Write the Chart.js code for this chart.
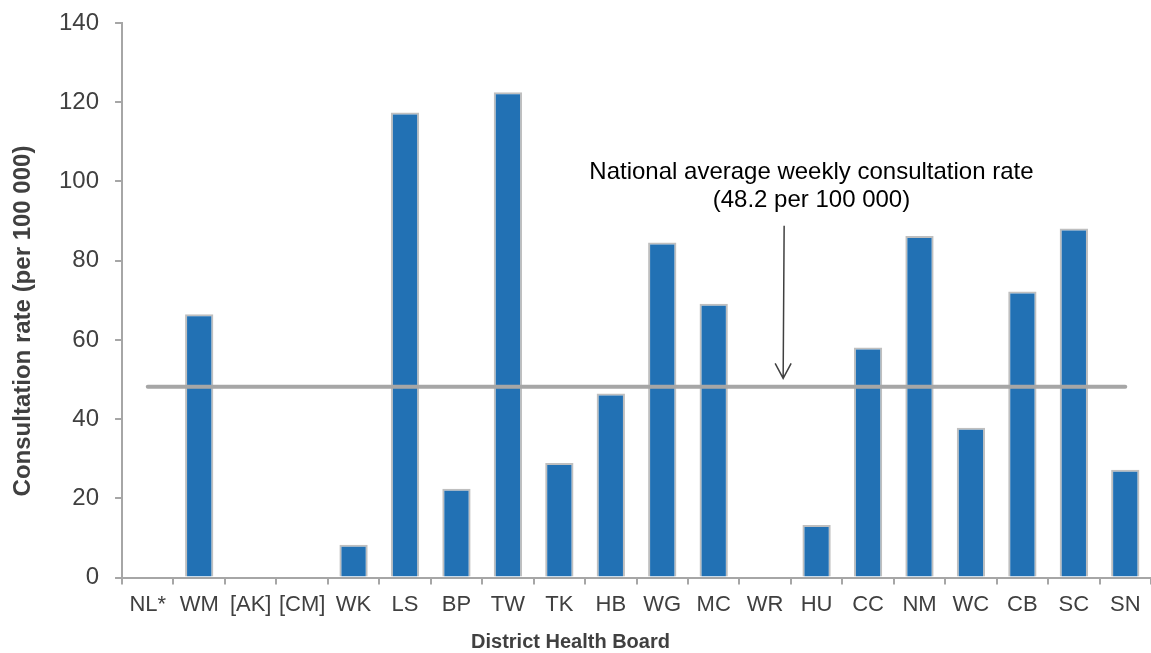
<!DOCTYPE html>
<html>
<head>
<meta charset="utf-8">
<script src="https://cdn.jsdelivr.net/npm/chart.js@4/dist/chart.umd.min.js"></script>
<style>
html,body{margin:0;padding:0;background:#fff;}
#wrap{width:1151px;height:653px;}
</style>
</head>
<body>
<div id="wrap"><canvas id="c" width="1151" height="653"></canvas></div>
<script>
const categories = ['NL*','WM','[AK]','[CM]','WK','LS','BP','TW','TK','HB','WG','MC','WR','HU','CC','NM','WC','CB','SC','SN'];
const rates = [0,66.5,0,0,8.3,117.4,22.4,122.5,28.9,46.5,84.6,69.1,0,13.3,58.1,86.2,37.8,72.2,88.1,27.2];
const nationalAverage = 48.2;
const averageLine = categories.map(() => nationalAverage);
const yTicks = [0,20,40,60,80,100,120,140];
const xTitle = 'District Health Board';
const yTitle = 'Consultation rate (per 100 000)';
const noteLines = ['National average weekly consultation rate','(48.2 per 100 000)'];
const noteX = 12.9;            // category index for text centre
const noteY = [102.4, 95.3];   // value units for each text line
const arrowX = 12.35;          // category index for arrow
const arrowFrom = 88.8;
const arrowTo = 50.3;
const FONT = '"Liberation Sans", Arial, sans-serif';

const notePlugin = {
  id: 'note',
  afterDatasetsDraw(chart) {
    const ctx = chart.ctx, x = chart.scales.x, y = chart.scales.y;
    ctx.save();
    ctx.fillStyle = '#000';
    ctx.font = '24px ' + FONT;
    ctx.textAlign = 'center';
    ctx.textBaseline = 'middle';
    noteLines.forEach((t, i) => ctx.fillText(t, x.getPixelForValue(noteX), y.getPixelForValue(noteY[i])));
    const ax = x.getPixelForValue(arrowX);
    const y1 = y.getPixelForValue(arrowFrom), y2 = y.getPixelForValue(arrowTo);
    ctx.strokeStyle = '#404040';
    ctx.lineWidth = 1.5;
    ctx.beginPath();
    ctx.moveTo(ax + 1, y1); ctx.lineTo(ax, y2);
    ctx.moveTo(ax - 8, y2 - 15); ctx.lineTo(ax, y2); ctx.lineTo(ax + 8, y2 - 15);
    ctx.stroke();
    // axis titles, placed as in the reference
    ctx.fillStyle = '#404040';
    ctx.font = 'bold 20px ' + FONT;
    ctx.fillText(xTitle, chart.width / 2 - 5, 642);
    ctx.translate(23, 321);
    ctx.rotate(-Math.PI / 2);
    ctx.font = 'bold 24px ' + FONT;
    ctx.fillText(yTitle, 0, 0);
    ctx.restore();
  }
};

new Chart(document.getElementById('c'), {
  data: {
    labels: categories,
    datasets: [
      {
        type: 'line',
        data: averageLine,
        borderColor: '#A6A6A6',
        borderWidth: 4,
        pointRadius: 0,
        borderCapStyle: 'round',
        order: 0
      },
      {
        type: 'bar',
        data: rates,
        backgroundColor: '#2271B4',
        borderColor: '#BFBFBF',
        borderWidth: 2,
        barPercentage: 0.55,
        categoryPercentage: 1,
        order: 1
      }
    ]
  },
  options: {
    responsive: false,
    animation: false,
    devicePixelRatio: 1,
    layout: { padding: { top: 23, right: 0, left: 43, bottom: 28 } },
    plugins: { legend: { display: false }, tooltip: { enabled: false } },
    scales: {
      x: {
        offset: true,
        grid: { offset: true, drawOnChartArea: false, drawTicks: true, tickLength: 7, color: '#A6A6A6', lineWidth: 2 },
        border: { color: '#A6A6A6', width: 2 },
        ticks: { color: '#404040', font: { size: 22, family: FONT }, maxRotation: 0, autoSkip: false, padding: 7 }
      },
      y: {
        min: 0, max: 140,
        afterBuildTicks: (s) => { s.ticks = yTicks.map(v => ({ value: v })); },
        afterFit: (s) => { s.paddingTop = 0; },
        grid: { drawOnChartArea: false, drawTicks: true, tickLength: 7, color: '#A6A6A6', lineWidth: 2 },
        border: { color: '#A6A6A6', width: 2 },
        ticks: { color: '#404040', font: { size: 24, family: FONT }, padding: 16 }
      }
    }
  },
  plugins: [notePlugin]
});
</script>
</body>
</html>
